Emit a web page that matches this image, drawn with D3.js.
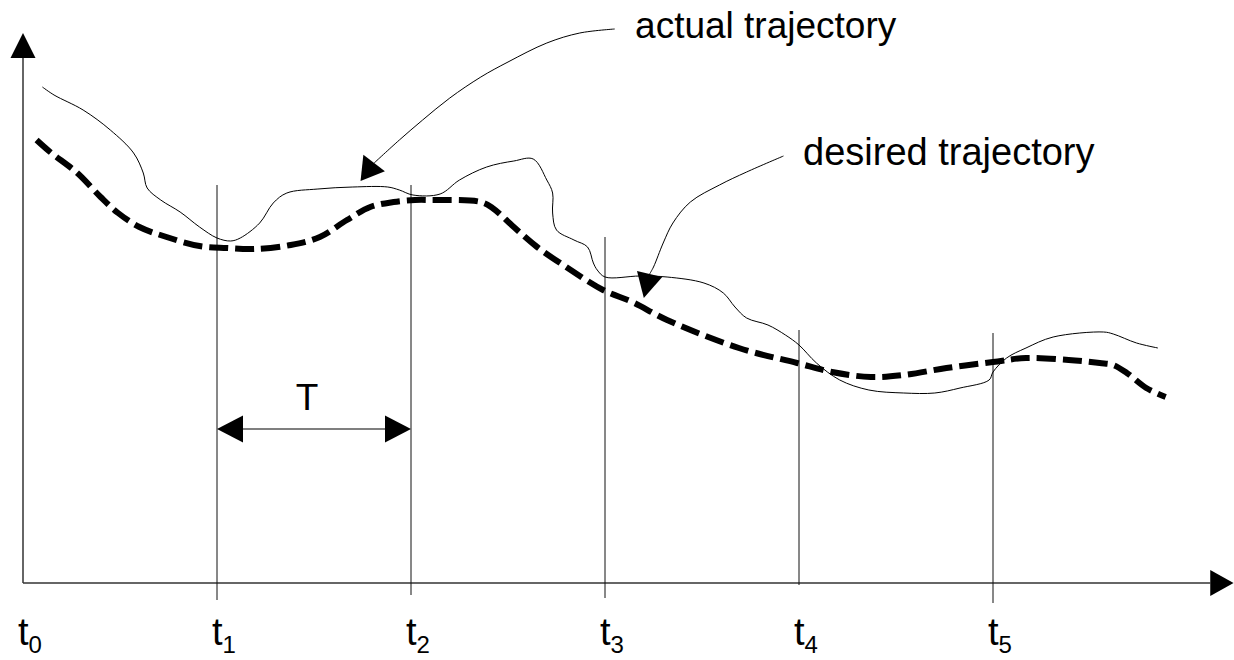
<!DOCTYPE html>
<html>
<head>
<meta charset="utf-8">
<script src="https://d3js.org/d3.v7.min.js"></script>
<style>
  body { margin: 0; background: #fff; }
  text { font-family: "Liberation Sans", Arial, sans-serif; fill: #000; }
</style>
</head>
<body>
<script>
// sample instants t0..t5
var tickIdx = [0, 1, 2, 3, 4, 5];

// actual trajectory (thin line) : time in units of T, value
var actualT = [0.10, 0.16, 0.31, 0.45, 0.57, 0.62, 0.64, 0.71, 0.81, 0.91, 1.00, 1.07, 1.12, 1.22, 1.29, 1.36, 1.52, 1.70, 1.88, 1.94, 2.01, 2.15, 2.25, 2.39, 2.53, 2.63, 2.70, 2.73, 2.73, 2.75, 2.84, 2.91, 2.94, 2.96, 3.00, 3.18, 3.32, 3.51, 3.61, 3.67, 3.73, 3.84, 3.93, 4.00, 4.09, 4.21, 4.36, 4.54, 4.70, 4.83, 4.98, 5.00, 5.07, 5.17, 5.31, 5.57, 5.62, 5.74, 5.85];
var actualV = [496, 488, 473, 453, 430, 410, 395, 383, 371, 356, 345, 342, 345, 360, 380, 390, 394, 396, 396, 393, 388, 389, 403, 416, 422, 424, 403, 390, 370, 353, 343, 336, 320, 313, 306, 307, 306, 300, 290, 276, 265, 258, 248, 238, 220, 203, 193, 190, 190, 195, 203, 211, 225, 235, 246, 251, 249, 240, 235];

// desired trajectory (thick dashed)
var desiredT = [0.07, 0.14, 0.28, 0.40, 0.49, 0.60, 0.74, 0.91, 1.05, 1.19, 1.38, 1.53, 1.67, 1.79, 1.91, 2.02, 2.10, 2.36, 2.42, 2.53, 2.65, 2.80, 2.99, 3.14, 3.32, 3.69, 3.99, 4.17, 4.37, 4.54, 4.76, 5.00, 5.17, 5.39, 5.55, 5.62, 5.69, 5.79, 5.89];
var desiredV = [443, 431, 410, 386, 370, 356, 346, 337, 335, 334, 338, 346, 363, 376, 381, 383, 383, 381, 375, 356, 336, 316, 293, 281, 263, 235, 220, 211, 206, 208, 215, 221, 225, 223, 220, 218, 210, 195, 186];

// how far each t line reaches (top, bottom)
var lineTop = [null, 398, 398, 346, 253, 250];
var lineBottom = [null, -17, -12, -15, -2, -20];

// callout leaders
var actualLeadT = [3.05, 2.87, 2.70, 2.50, 2.36, 2.20, 2.06, 1.94, 1.81];
var actualLeadV = [554, 550, 540, 521, 506, 485, 463, 443, 420];
var actualTip = [1.74, 402];
var desiredLeadT = [3.92, 3.73, 3.59, 3.44, 3.35, 3.30, 3.25, 3.23];
var desiredLeadV = [427, 411, 398, 381, 360, 340, 316, 309];
var desiredTip = [3.20, 285];

width = 1234
height = 660

svg = d3.select("body")
    .append("svg")
    .attr("width", width)
    .attr("height", height);

var x = d3.scaleLinear().domain([0, 1]).range([23, 217]);
var y = d3.scaleLinear().domain([0, 550]).range([583, 33]);

// draws a solid triangle from base centre to tip
function arrowHead(bx, by, tx, ty, half) {
    var dx = tx - bx, dy = ty - by;
    var len = Math.sqrt(dx * dx + dy * dy);
    var nx = -dy / len * half, ny = dx / len * half;
    svg.append("path")
        .attr("d", "M" + tx + "," + ty + "L" + (bx + nx) + "," + (by + ny) + "L" + (bx - nx) + "," + (by - ny) + "Z")
        .attr("fill", "#000");
}

// axes
svg.append("line")
    .attr("x1", x(0)).attr("y1", y(0))
    .attr("x2", x(0)).attr("y2", y(525))
    .attr("stroke", "#333").attr("stroke-width", 1.5);
arrowHead(x(0), y(525), x(0), y(550), 12.5);

svg.append("line")
    .attr("x1", x(0)).attr("y1", y(0))
    .attr("x2", x(6.12)).attr("y2", y(0))
    .attr("stroke", "#333").attr("stroke-width", 1.5);
arrowHead(x(6.12), y(0), x(6.24), y(0), 13);

// vertical t lines
svg.selectAll("line.tline")
    .data(tickIdx.slice(1))
    .enter()
    .append("line")
    .attr("class", "tline")
    .attr("x1", d => x(d)).attr("x2", d => x(d))
    .attr("y1", d => y(lineTop[d]))
    .attr("y2", d => y(lineBottom[d]))
    .attr("stroke", "#111").attr("stroke-width", 1);

// t labels with subscripts
var lab = svg.selectAll("text.tlab")
    .data(tickIdx)
    .enter()
    .append("text")
    .attr("class", "tlab")
    .attr("x", d => x(d) - 5)
    .attr("y", 645)
    .style("font-size", "38px");
lab.append("tspan").text("t");
lab.append("tspan")
    .attr("dy", 8)
    .style("font-size", "24px")
    .text(d => d);

// curves
var pts = function(ts, vs) { return ts.map((t, i) => [t, vs[i]]); };
var line = d3.line()
    .x(d => x(d[0]))
    .y(d => y(d[1]))
    .curve(d3.curveCatmullRom.alpha(0.5));

svg.append("path")
    .datum(pts(desiredT, desiredV))
    .attr("d", line)
    .attr("fill", "none")
    .attr("stroke", "#000")
    .attr("stroke-width", 6)
    .attr("stroke-dasharray", "19,7");

svg.append("path")
    .datum(pts(actualT, actualV))
    .attr("d", line)
    .attr("fill", "none")
    .attr("stroke", "#000")
    .attr("stroke-width", 1);

// callout leaders and arrows
svg.append("path")
    .datum(pts(actualLeadT, actualLeadV))
    .attr("d", line)
    .attr("fill", "none").attr("stroke", "#000").attr("stroke-width", 1);
arrowHead(x(actualLeadT[8]), y(actualLeadV[8]), x(actualTip[0]), y(actualTip[1]), 13.5);

svg.append("path")
    .datum(pts(desiredLeadT, desiredLeadV))
    .attr("d", line)
    .attr("fill", "none").attr("stroke", "#000").attr("stroke-width", 1);
arrowHead(x(desiredLeadT[7]), y(desiredLeadV[7]), x(desiredTip[0]), y(desiredTip[1]), 13);

svg.append("text")
    .text("actual trajectory")
    .attr("x", x(3.155)).attr("y", y(545))
    .style("font-size", "37px");

svg.append("text")
    .text("desired trajectory")
    .attr("x", x(4.021)).attr("y", y(418))
    .style("font-size", "38px");

// period T between t1 and t2
svg.append("line")
    .attr("x1", x(1) + 20).attr("x2", x(2) - 20)
    .attr("y1", y(154)).attr("y2", y(154))
    .attr("stroke", "#000").attr("stroke-width", 1.2);
arrowHead(x(1) + 26, y(154), x(1), y(154), 13.5);
arrowHead(x(2) - 26, y(154), x(2), y(154), 13.5);

svg.append("text")
    .text("T")
    .attr("x", x(1.464)).attr("y", y(173))
    .attr("text-anchor", "middle")
    .style("font-size", "37px");
</script>
</body>
</html>
